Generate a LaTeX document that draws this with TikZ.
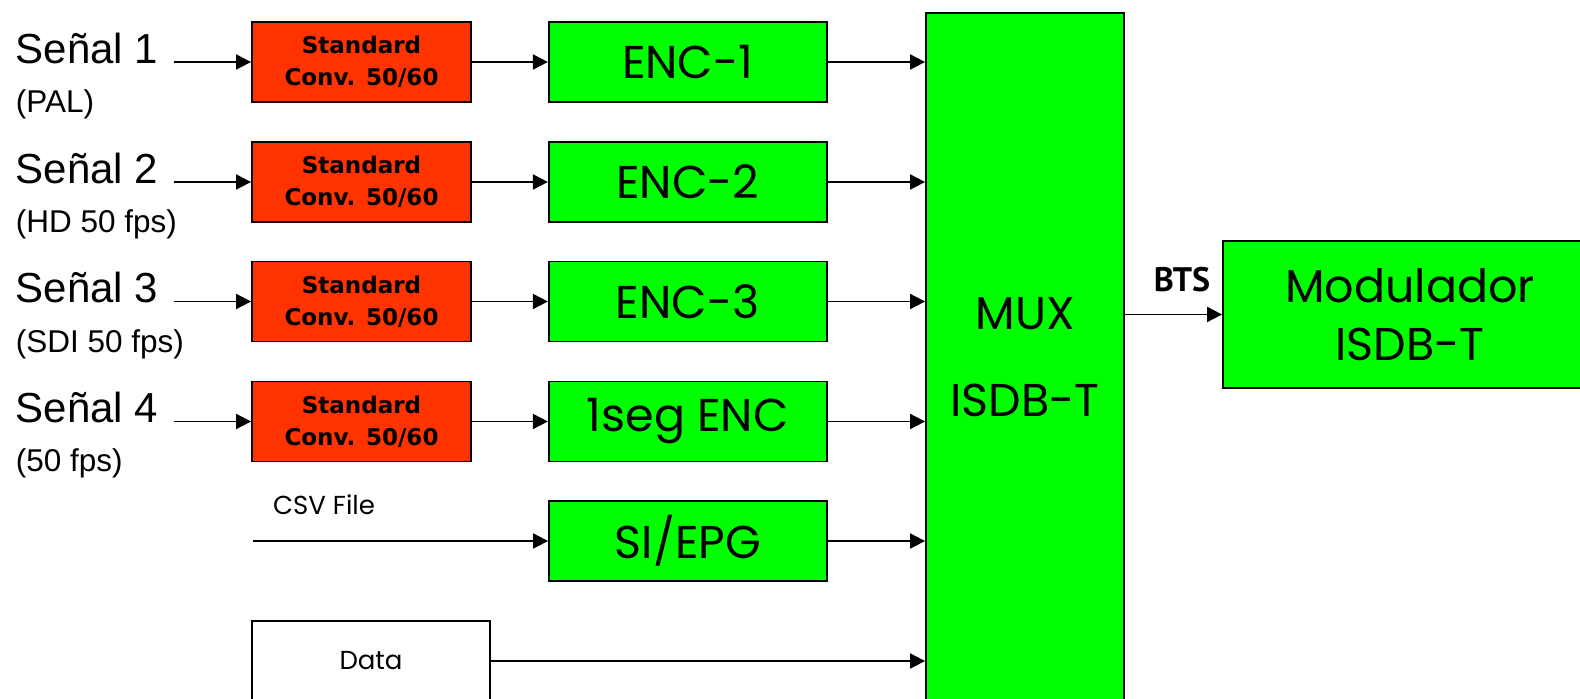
\documentclass[tikz,border=0pt]{standalone}
\usepackage{fontspec}
\setmainfont{Liberation Sans}
\newfontfamily\gothic{Poppins}
\newfontfamily\convfont{DejaVu Sans}
\newfontfamily\btsfont{PT Sans}
\usepackage{xcolor}
\usepackage{tikz}
\usetikzlibrary{arrows.meta, positioning, calc}
\definecolor{convred}{RGB}{255,51,0}
\definecolor{encgreen}{RGB}{0,255,0}

\begin{document}
\begin{tikzpicture}[
    x=0.5pt, y=-0.5pt,
    line width=0.9pt,
    conv/.style={draw, fill=convred, minimum width=109.5pt, minimum height=40pt, align=center, inner sep=0pt, font=\convfont\bfseries\fontsize{11.5}{16}\selectfont},
    enc/.style={draw, fill=encgreen, minimum width=139pt, minimum height=40pt, align=center, inner sep=0pt, font=\gothic\fontsize{23}{28}\selectfont},
    sig/.style={anchor=base west, inner sep=0pt, font=\fontsize{21}{24}\selectfont},
    sub/.style={anchor=base west, inner sep=0pt, font=\fontsize{15.75}{18}\selectfont},
    note/.style={inner sep=0pt, font=\gothic\fontsize{13}{16}\selectfont},
    >={Triangle[length=7.5pt, width=7.5pt]}
]
    % page
    \fill[white] (0,0) rectangle (1580,699);
    \useasboundingbox (0,0) rectangle (1580,699);

    % inputs
    \node[sig] (sig1) at (15,63.5) {Señal 1};
    \node[sub] (sub1) at (15,113) {(PAL)};
    \node[sig] (sig2) at (15,183.5) {Señal 2};
    \node[sub] (sub2) at (15,233) {(HD 50 fps)};
    \node[sig] (sig3) at (15,303) {Señal 3};
    \node[sub] (sub3) at (15,352.5) {(SDI 50 fps)};
    \node[sig] (sig4) at (15,423) {Señal 4};
    \node[sub] (sub4) at (15,472) {(50 fps)};
    \coordinate (in1) at (174,62);
    \coordinate (in2) at (174,182);
    \coordinate (in3) at (174,301.5);
    \coordinate (in4) at (174,421.5);

    % converters and encoders
    \node[conv] (conv1) at (361.5,62) {Standard\\Conv. 50/60};
    \node[conv] (conv2) at (361.5,182) {Standard\\Conv. 50/60};
    \node[conv] (conv3) at (361.5,301.5) {Standard\\Conv. 50/60};
    \node[conv] (conv4) at (361.5,421.5) {Standard\\Conv. 50/60};
    \node[enc, right=38pt of conv1] (enc1) {ENC-1};
    \node[enc, right=38pt of conv2] (enc2) {ENC-2};
    \node[enc, right=38pt of conv3] (enc3) {ENC-3};
    \node[enc, right=38pt of conv4] (enc4) {1seg ENC};
    \node[enc] (epg) at (688,541) {SI/EPG};
    \node[note] (csv) at (324,505) {CSV File};
    \coordinate (csvin) at (253,541);
    \node[draw, minimum width=119pt, minimum height=40pt, note] (data) at (371,661) {Data};

    % mux and modulator
    \node[enc, minimum width=99pt, minimum height=344pt, font=\gothic\fontsize{23}{43.5}\selectfont] (mux) at (1025,357) {MUX\\ISDB-T};
    \node[enc, minimum width=187pt, minimum height=73.5pt, font=\gothic\fontsize{23}{29}\selectfont] (mod) at (1410,314.5) {Modulador\\ISDB-T};
    \node[inner sep=0pt, font=\btsfont\bfseries\fontsize{17}{20}\selectfont] (bts) at (1182,280) {BTS};

    \draw[->] (in1) -- (conv1);
    \draw[->] (in2) -- (conv2);
    \draw[->] (in3) -- (conv3);
    \draw[->] (in4) -- (conv4);
    \draw[->] (conv1) -- (enc1);
    \draw[->] (conv2) -- (enc2);
    \draw[->] (conv3) -- (enc3);
    \draw[->] (conv4) -- (enc4);
    \draw[->] (csvin) -- (epg);
    \draw[->] (enc1) -- (enc1 -| mux.west);
    \draw[->] (enc2) -- (enc2 -| mux.west);
    \draw[->] (enc3) -- (enc3 -| mux.west);
    \draw[->] (enc4) -- (enc4 -| mux.west);
    \draw[->] (epg) -- (epg -| mux.west);
    \draw[->] (data) -- (data -| mux.west);
    \draw[->] (mod.west -| mux.east) -- (mod.west);
\end{tikzpicture}
\end{document}
